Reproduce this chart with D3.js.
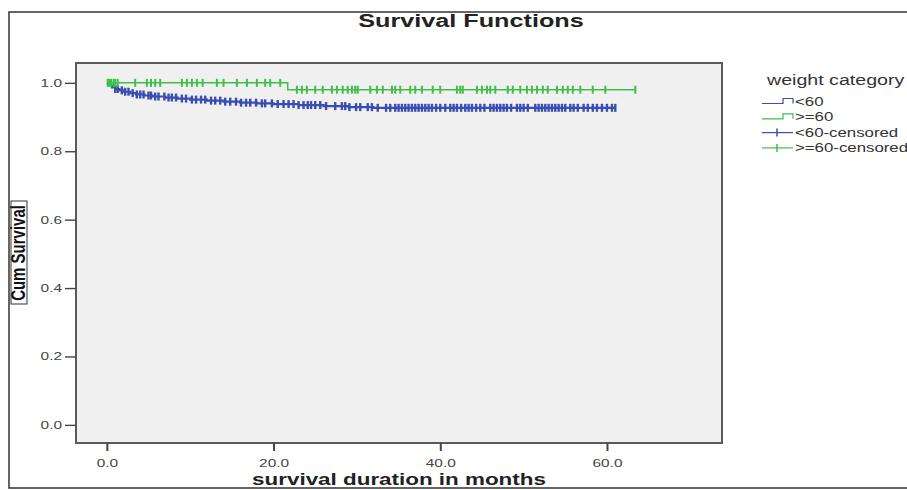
<!DOCTYPE html>
<html>
<head>
<meta charset="utf-8">
<script src="https://cdn.jsdelivr.net/npm/d3@7"></script>
<style>
body { margin: 0; background: #fff; }
text { font-family: "Liberation Sans", Arial, sans-serif; }
</style>
</head>
<body>
<div id="chart"></div>
<script>
// survival steps and censored cases (months)
const groups = ['<60', '>=60'];

const lowTimes = [0, 0.3, 0.6, 1.0, 1.5, 2.0, 2.8, 3.5, 4.5, 5.5, 7.0, 8.5, 10.0, 12.0, 14.0, 16.0, 18.0, 20.0, 23.0, 26.0, 29.0, 32.0];
const lowSurv = [1.0, 0.993, 0.987, 0.982, 0.978, 0.974, 0.970, 0.966, 0.963, 0.960, 0.957, 0.954, 0.951, 0.948, 0.945, 0.942, 0.940, 0.938, 0.935, 0.932, 0.929, 0.927];
const lowEnd = 61.0;
const lowCensored = [1.0, 1.3, 1.8, 2.2, 2.6, 3.1, 3.6, 4.0, 4.4, 5.0, 5.3, 5.8, 6.2, 6.9, 7.4, 7.8, 8.3, 9.0, 9.5, 10.2, 10.7, 11.3, 11.8, 12.5, 13.0, 13.6, 14.2, 14.8, 15.5, 16.1, 16.7, 17.2, 17.9, 18.6, 19.0, 19.8, 20.5, 21.2, 21.8, 22.4, 23.0, 23.6, 24.1, 24.5, 25.0, 25.6, 26.3, 27.4, 28.2, 28.6, 29.1, 29.9, 30.4, 31.3, 31.8, 32.5, 33.5, 34.0, 34.6, 35.0, 35.4, 35.8, 36.2, 36.6, 37.0, 37.4, 37.8, 38.2, 38.6, 39.0, 39.5, 40.0, 40.6, 41.2, 41.6, 42.0, 42.5, 43.0, 43.4, 43.8, 44.3, 44.8, 45.3, 46.0, 46.4, 46.8, 47.2, 47.6, 48.0, 48.5, 49.2, 49.6, 50.0, 50.5, 51.4, 51.8, 52.2, 52.6, 53.0, 53.4, 53.8, 54.2, 54.6, 55.0, 55.6, 56.0, 56.5, 57.2, 57.7, 58.3, 58.8, 59.4, 60.0, 60.6, 61.0];

const highTimes = [0, 21.7];
const highSurv = [1.0, 0.98];
const highEnd = 63.4;
const highCensored = [0.1, 0.3, 0.5, 0.8, 1.0, 1.3, 3.4, 4.8, 5.3, 5.8, 6.4, 9.0, 9.6, 10.2, 10.8, 11.5, 13.2, 14.0, 15.6, 16.8, 18.0, 19.0, 19.6, 20.8, 22.8, 23.4, 24.0, 25.0, 25.9, 27.0, 27.6, 28.3, 28.9, 29.4, 29.8, 30.1, 31.6, 32.4, 33.1, 34.2, 34.6, 35.2, 36.4, 37.0, 37.8, 39.1, 40.0, 42.0, 42.4, 42.7, 44.4, 45.0, 45.6, 46.0, 46.6, 48.1, 48.7, 49.6, 50.4, 51.0, 51.6, 52.3, 52.9, 54.0, 54.7, 55.3, 55.9, 56.8, 58.3, 59.8, 63.4];

const xTicks = [0, 20, 40, 60];
const yTicks = [0, 0.2, 0.4, 0.6, 0.8, 1.0];

const width = 907, height = 490;
const blue = '#3a4db0', green = '#3fbf47';
const stretch = 1.4; // the picture is wider than it is tall

const svg = d3.select('#chart')
              .append('svg')
              .attr('width', width)
              .attr('height', height);

// widen text like the source picture
function widen(sel, k) {
    sel.each(function() {
        let w = this.getComputedTextLength();
        d3.select(this).attr('textLength', w * k).attr('lengthAdjust', 'spacingAndGlyphs');
    });
}

let x = d3.scaleLinear().domain([-3.7, 73.8]).range([76, 722]);
let y = d3.scaleLinear().domain([-0.053, 1.058]).range([443, 63]);

// plot area
svg.append('rect')
    .attr('x', x.range()[0])
    .attr('y', y.range()[1])
    .attr('width', x.range()[1] - x.range()[0])
    .attr('height', y.range()[0] - y.range()[1])
    .style('fill', '#f0f0f0')
    .style('stroke', '#5a5a5a')
    .style('stroke-width', 2);

let yAxis = d3.axisLeft(y).tickValues(yTicks).tickFormat(d3.format('.1f')).tickSize(11).tickPadding(3);
let xAxis = d3.axisBottom(x).tickValues(xTicks).tickFormat(d3.format('.1f')).tickSize(8).tickPadding(8);

let yG = svg.append('g').attr('transform', 'translate(' + x.range()[0] + ',0)').call(yAxis);
let xG = svg.append('g').attr('transform', 'translate(0,' + y.range()[0] + ')').call(xAxis);

yG.select('.domain').remove();
xG.select('.domain').remove();
yG.selectAll('line').style('stroke', '#444').style('stroke-width', 1.4);
xG.selectAll('line').style('stroke', '#444').style('stroke-width', 2);
[yG, xG].forEach(g => {
    g.selectAll('text')
        .style('font-size', '11px')
        .style('fill', '#444')
        .call(widen, stretch);
});

function survAt(times, surv, t) {
    let i = d3.bisectRight(times, t) - 1;
    return surv[Math.max(i, 0)];
}

let line = d3.line()
             .x(d => x(d.t))
             .y(d => y(d.s))
             .curve(d3.curveStepAfter);

let curves = [
    {name: groups[0], times: lowTimes, surv: lowSurv, end: lowEnd, cens: lowCensored, color: blue, w: 2.2, mw: 2.4},
    {name: groups[1], times: highTimes, surv: highSurv, end: highEnd, cens: highCensored, color: green, w: 1.5, mw: 2}
];

curves.forEach(c => {
    let pts = c.times.map((t, i) => ({t: t, s: c.surv[i]}));
    pts.push({t: c.end, s: c.surv[c.surv.length - 1]});

    svg.append('path')
        .datum(pts)
        .attr('d', line)
        .style('fill', 'none')
        .style('stroke', c.color)
        .style('stroke-width', c.w);

    svg.selectAll(null)
        .data(c.cens)
        .enter()
        .append('line')
        .attr('x1', d => x(d))
        .attr('x2', d => x(d))
        .attr('y1', d => y(survAt(c.times, c.surv, d)) - 4)
        .attr('y2', d => y(survAt(c.times, c.surv, d)) + 4)
        .style('stroke', c.color)
        .style('stroke-width', c.mw);
});

// title
svg.append('text')
    .attr('x', 471)
    .attr('y', 27)
    .style('text-anchor', 'middle')
    .style('font-size', '18px')
    .style('font-weight', 'bold')
    .style('fill', '#222')
    .text('Survival Functions')
    .call(widen, stretch);

// axis titles
svg.append('text')
    .attr('x', 399)
    .attr('y', 485)
    .style('text-anchor', 'middle')
    .style('font-size', '16px')
    .style('font-weight', 'bold')
    .style('fill', '#222')
    .text('survival duration in months')
    .call(widen, stretch);

svg.append('text')
    .attr('transform', 'translate(25,253) scale(1.3,1) rotate(-90)')
    .style('text-anchor', 'middle')
    .style('font-size', '15px')
    .style('font-weight', 'bold')
    .style('fill', '#111')
    .text('Cum Survival');

svg.append('rect')
    .attr('x', 11).attr('y', 201)
    .attr('width', 16).attr('height', 103)
    .style('fill', 'none')
    .style('stroke', '#333')
    .style('stroke-width', 1);

// legend
let legend = svg.append('g');

legend.append('text')
    .attr('x', 767)
    .attr('y', 85)
    .style('font-size', '14px')
    .style('fill', '#333')
    .text('weight category')
    .call(widen, stretch);

let legendItems = [
    {label: groups[0], color: blue, cens: false},
    {label: groups[1], color: green, cens: false},
    {label: groups[0] + '-censored', color: blue, cens: true},
    {label: groups[1] + '-censored', color: green, cens: true}
];

legendItems.forEach((d, i) => {
    let cy = 102 + i * 15.3;
    if (d.cens) {
        legend.append('line')
            .attr('x1', 762).attr('x2', 793).attr('y1', cy).attr('y2', cy)
            .style('stroke', d.color).style('stroke-width', 1.2);
        legend.append('line')
            .attr('x1', 777).attr('x2', 777).attr('y1', cy - 4).attr('y2', cy + 4)
            .style('stroke', d.color).style('stroke-width', 1.5);
    } else {
        legend.append('path')
            .attr('d', 'M762,' + (cy + 1.5) + 'H783V' + (cy - 3.5) + 'H793V' + (cy + 1.5))
            .style('fill', 'none')
            .style('stroke', d.color)
            .style('stroke-width', 1.2);
    }
    legend.append('text')
        .attr('x', 795)
        .attr('y', cy + 4)
        .style('font-size', '12px')
        .style('fill', '#333')
        .text(d.label)
        .call(widen, stretch);
});

// outer frame
svg.append('path')
    .attr('d', 'M' + width + ',12H9V488H' + width)
    .style('fill', 'none')
    .style('stroke', '#333')
    .style('stroke-width', 1.5);
</script>
</body>
</html>
